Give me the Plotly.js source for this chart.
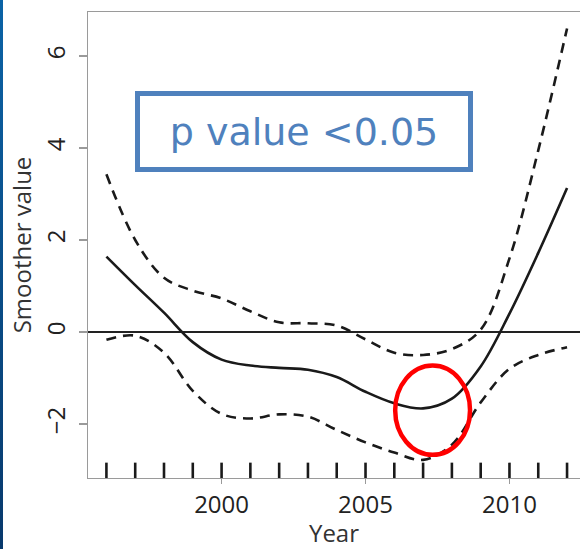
<!DOCTYPE html>
<html>
<head>
<meta charset="utf-8">
<script src="https://cdn.plot.ly/plotly-3.0.1.min.js"></script>
<style>
  html, body { margin: 0; padding: 0; background: #fff; }
  #chart { width: 580px; height: 549px; position: relative; }
  #strip { position: absolute; left: 0; top: 0; width: 3px; height: 549px;
           background: linear-gradient(#0b63a6, #08396c); z-index: 10; }
</style>
</head>
<body>
<div id="strip"></div>
<div id="chart"></div>
<script>
// Data
const years = [1996, 1997, 1998, 1999, 2000, 2001, 2002, 2003, 2004, 2005, 2006, 2007, 2008, 2009, 2010, 2011, 2012];
const smoother = [1.64, 1.02, 0.42, -0.22, -0.60, -0.73, -0.78, -0.82, -0.98, -1.30, -1.55, -1.66, -1.45, -0.75, 0.40, 1.72, 3.13];
const upper = [3.43, 2.0, 1.18, 0.90, 0.73, 0.45, 0.21, 0.19, 0.14, -0.16, -0.45, -0.50, -0.37, 0.05, 1.6, 3.95, 6.6];
const lower = [-0.17, -0.08, -0.45, -1.28, -1.78, -1.88, -1.79, -1.84, -2.13, -2.40, -2.62, -2.78, -2.45, -1.53, -0.80, -0.50, -0.33];
const rugYears = [1996, 1997, 1998, 1999, 2000, 2001, 2002, 2003, 2004, 2005, 2006, 2007, 2008, 2009, 2010, 2011, 2012];
const xTickVals = [2000, 2005, 2010];
const xTickText = ['2000', '2005', '2010'];
const yTickVals = [-2, 0, 2, 4, 6];
const yTickText = ['\u22122', '0', '2', '4', '6'];
const noteText = 'p value <0.05';
// highlighted region (ellipse) in data units
const ellipseX = [2006.03, 2008.63];
const ellipseY = [-2.67, -0.73];

const yRange = [-3.174, 6.957];
const xRange = [1995.36, 2012.45];
const rugTop = -2.84;

const rugX = [], rugY = [];
rugYears.forEach(function (yr) {
  rugX.push(yr, yr, null);
  rugY.push(yRange[0], rugTop, null);
});

const dashStyle = '10px,7px';
const traces = [
  { x: years, y: upper, mode: 'lines', line: { color: '#1a1a1a', width: 2.6, dash: dashStyle, shape: 'spline', smoothing: 1 }, hoverinfo: 'skip' },
  { x: years, y: lower, mode: 'lines', line: { color: '#1a1a1a', width: 2.6, dash: dashStyle, shape: 'spline', smoothing: 1 }, hoverinfo: 'skip' },
  { x: years, y: smoother, mode: 'lines', line: { color: '#1a1a1a', width: 2.6, shape: 'spline', smoothing: 1 }, hoverinfo: 'skip' },
  { x: rugX, y: rugY, mode: 'lines', line: { color: '#1a1a1a', width: 2.6 }, hoverinfo: 'skip', cliponaxis: false }
];

const axisFont = { family: 'Open Sans, sans-serif', size: 24, color: '#222' };

const layout = {
  width: 580, height: 549,
  margin: { l: 88, r: 0, t: 12, b: 71, pad: 0 },
  paper_bgcolor: '#fff', plot_bgcolor: '#fff',
  showlegend: false,
  xaxis: {
    range: xRange, showgrid: false, zeroline: false, automargin: true,
    showline: true, linecolor: '#9a9a9a', linewidth: 1.3, mirror: true,
    ticks: 'outside', ticklen: 5, tickwidth: 1.3, tickcolor: '#9a9a9a',
    tickvals: xTickVals, ticktext: xTickText, tickfont: axisFont,
    title: { text: 'Year', font: { family: 'Open Sans, sans-serif', size: 24, color: '#333' }, standoff: 4 }
  },
  yaxis: {
    range: yRange, showgrid: false,
    zeroline: true, zerolinecolor: '#222', zerolinewidth: 1.5,
    showline: true, linecolor: '#9a9a9a', linewidth: 1.3, mirror: false,
    ticks: 'outside', ticklen: 8, tickwidth: 1.3, tickcolor: '#9a9a9a',
    tickvals: yTickVals, ticktext: yTickText, tickfont: axisFont, tickangle: -90,
    ticklabelstandoff: 4,
    title: { text: 'Smoother value', font: { family: 'Open Sans, sans-serif', size: 24, color: '#333' }, standoff: 0 }
  },
  shapes: [
    { type: 'circle', xref: 'x', yref: 'y', x0: ellipseX[0], x1: ellipseX[1], y0: ellipseY[0], y1: ellipseY[1],
      line: { color: '#ff0000', width: 4.5 }, fillcolor: 'rgba(0,0,0,0)' }
  ],
  annotations: [
    { text: noteText, xref: 'paper', yref: 'paper', x: 0.439, y: 0.7425, xanchor: 'center', yanchor: 'middle',
      showarrow: false, font: { family: 'DejaVu Sans, sans-serif', size: 38, color: '#4f81bd' },
      bordercolor: '#4f81bd', borderwidth: 5, borderpad: 0, bgcolor: '#fff', width: 328, height: 71 }
  ]
};

Plotly.newPlot('chart', traces, layout, { staticPlot: true, displayModeBar: false });
</script>
</body>
</html>
